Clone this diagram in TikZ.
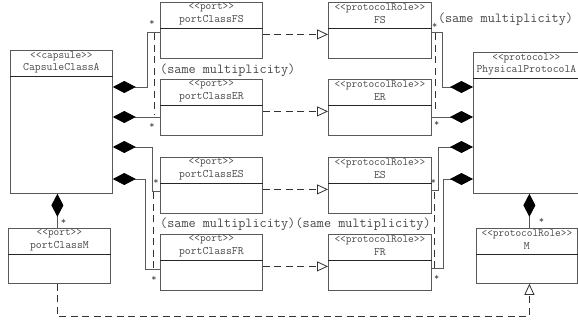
\documentclass[tikz,border=0pt]{standalone}
\usepackage{fontspec}
\usetikzlibrary{arrows.meta}
\colorlet{linegray}{black!65}
\colorlet{txtgray}{black!72}
% header of a class box: stereotype, name and separator
\newcommand{\classhead}[3]{%
  \node[stereo] (#1-st) at ([yshift=-6pt]#1.north) {<<#2>>};
  \node[cname] (#1-nm) at ([yshift=-18.5pt]#1.north) {#3};
  \draw[sepline] ([yshift=-26pt]#1.north west) -- ([yshift=-26pt]#1.north east);
}
\begin{document}
\begin{tikzpicture}[x=1pt, y=-1pt,
    classbox/.style={draw=linegray, line width=0.8pt, anchor=north west,
      minimum width=102pt, minimum height=56pt, inner sep=0pt},
    stereo/.style={font=\ttfamily\fontsize{11}{11}\selectfont, text=txtgray, inner sep=0pt},
    cname/.style={font=\ttfamily\fontsize{11.4}{11.4}\selectfont, text=txtgray, inner sep=0pt},
    sepline/.style={line width=0.8pt, draw=black!85},
    compo/.style={draw=linegray, line width=0.8pt,
      {Diamond[length=23pt, width=12pt, color=black]}-},
    realize/.style={draw=black!80, line width=0.8pt, dash pattern=on 7pt off 4.5pt,
      -{Triangle[open, length=11pt, width=10pt, color=black!80, fill=white]}},
    constr/.style={draw=black!80, line width=0.8pt, dash pattern=on 7pt off 4.5pt},
    mult/.style={font=\ttfamily\fontsize{10}{10}\selectfont, text=txtgray, inner sep=0pt},
    samemult/.style={font=\ttfamily\fontsize{13.8}{13.8}\selectfont, text=txtgray, inner sep=0pt}
]
\useasboundingbox (0,0) rectangle (578,322);

% capsule, protocol and the two M classes
\node[classbox, minimum height=143pt] (cap) at (10,50) {};
\classhead{cap}{capsule}{CapsuleClassA}
\node[classbox, minimum width=106pt, minimum height=141pt] (proto) at (473,52) {};
\classhead{proto}{protocol}{PhysicalProtocolA}
\node[classbox, minimum height=55pt] (pM) at (8,228) {};
\classhead{pM}{port}{portClassM}
\node[classbox, minimum width=101pt, minimum height=55pt] (rM) at (476,228) {};
\classhead{rM}{protocolRole}{M}

% ports and protocol roles
\foreach \suf/\top in {FS/2, ER/79, ES/157, FR/234} {
  \node[classbox] (p\suf) at (160,\top) {};
  \classhead{p\suf}{port}{portClass\suf}
  \node[classbox, minimum width=103pt] (r\suf) at (328,\top) {};
  \classhead{r\suf}{protocolRole}{\suf}
  \draw[realize] ([yshift=-4pt]p\suf.east) -- ([yshift=-4pt]r\suf.west);
}

% compositions, capsule side
\draw[compo] ([yshift=-37pt]cap.north east) -- ++(35pt,0) |- ([yshift=-2pt]pFS.west);
\draw[compo] ([yshift=-67pt]cap.north east) -- ([yshift=-67pt]cap.north east -| pER.west);
\draw[compo] ([yshift=-97pt]cap.north east) -- ++(40pt,0) |- ([yshift=-6pt]pES.west);
\draw[compo] ([yshift=-129pt]cap.north east) -- ++(33pt,0) |- ([yshift=-7pt]pFR.west);
\draw[compo] ([xshift=-2pt]pM.north |- cap.south) -- ([xshift=-2pt]pM.north);

% compositions, protocol side
\draw[compo] ([yshift=-35pt]proto.north west) -- ++(-30.5pt,0) |- ([yshift=-2pt]rFS.east);
\draw[compo] ([yshift=-65pt]proto.north west) -- ([yshift=-65pt]proto.north west -| rER.east);
\draw[compo] ([yshift=-95pt]proto.north west) -- ++(-35pt,0) |- ([yshift=-5pt]rES.east);
\draw[compo] ([yshift=-127pt]proto.north west) -- ++(-30pt,0) |- ([yshift=-6pt]rFR.east);
\draw[compo] ([xshift=2.5pt]rM.north |- proto.south) -- ([xshift=2.5pt]rM.north);

\draw[realize] ([xshift=-2pt]pM.south) -- ++(0,-32.5pt) -| ([xshift=2.5pt]rM.south);

% multiplicities
\node[mult] at ([xshift=-8pt,yshift=8pt]pFS.west) {*};
\node[mult] at ([xshift=-8pt,yshift=-18pt]pER.west) {*};
\node[mult] at ([xshift=-4pt,yshift=4pt]pES.west) {*};
\node[mult] at ([xshift=-6pt,yshift=-16pt]pFR.west) {*};
\node[mult] at ([xshift=3pt,yshift=5pt]rFS.east) {*};
\node[mult] at ([xshift=5pt,yshift=-16pt]rER.east) {*};
\node[mult] at ([xshift=1.5pt,yshift=4pt]rES.east) {*};
\node[mult] at ([xshift=5pt,yshift=-15pt]rFR.east) {*};
\node[mult] at ([xshift=4pt,yshift=6pt]pM.north) {*};
\node[mult] at ([xshift=14.5pt,yshift=7pt]rM.north) {*};

% same multiplicity constraints
\draw[constr] ([xshift=-6pt,yshift=-3pt]pFS.west) -- ([xshift=-6pt,yshift=-8pt]pER.west);
\draw[constr] ([xshift=-6.5pt,yshift=-7pt]pES.west) -- ([xshift=-6.5pt,yshift=-8pt]pFR.west);
\draw[constr] ([xshift=4pt,yshift=-3pt]rFS.east) -- ([xshift=4pt,yshift=-6pt]rER.east);
\draw[constr] ([xshift=3pt,yshift=-7pt]rES.east) -- ([xshift=3pt,yshift=-6pt]rFR.east);
\node[samemult, anchor=west] (sm1) at ([yshift=-11pt]pFS.south west) {(same multiplicity)};
\node[samemult, anchor=west] (sm2) at ([xshift=6pt,yshift=-17pt]rFS.north east) {(same multiplicity)};
\node[samemult, anchor=west] (sm3) at ([yshift=-10pt]pES.south west) {(same multiplicity)};
\node[samemult, anchor=west] (sm4) at (sm3.east) {(same multiplicity)};
\end{tikzpicture}
\end{document}
